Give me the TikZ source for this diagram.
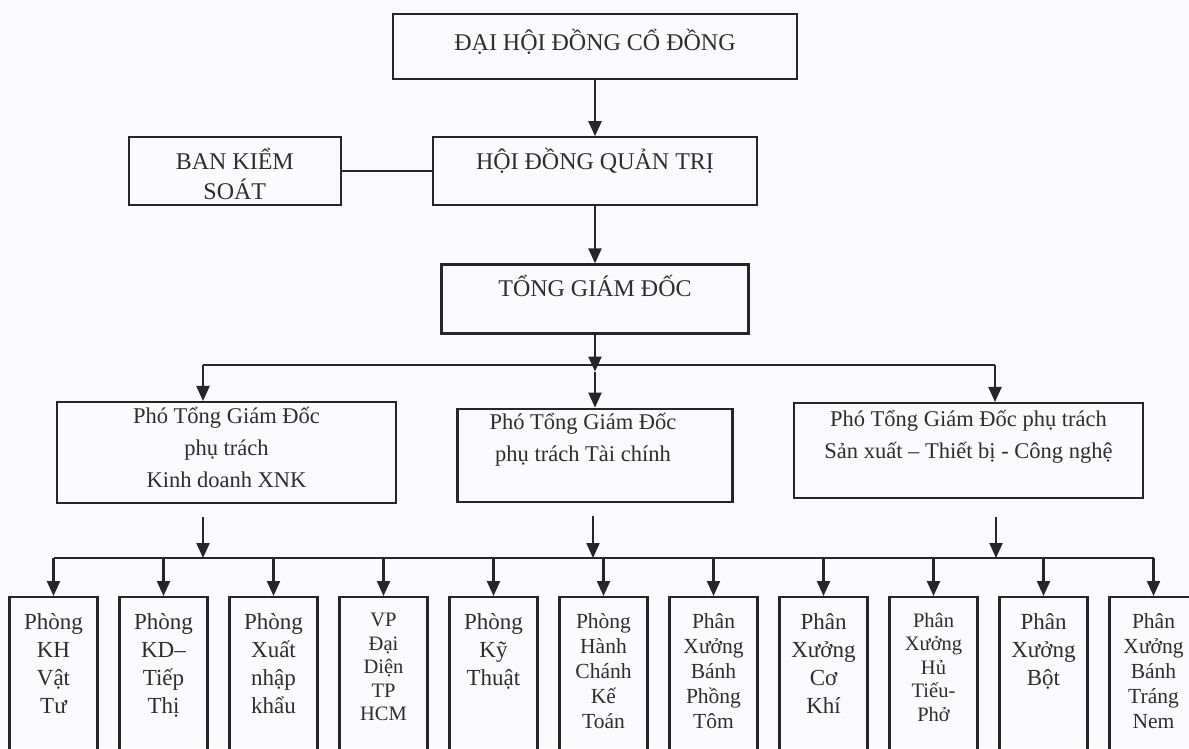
\documentclass[tikz,border=0pt]{standalone}
\usepackage{fontspec}
\setmainfont{Liberation Serif}
\usetikzlibrary{arrows.meta, positioning}
\definecolor{inkline}{HTML}{26262A}
\definecolor{inktext}{HTML}{2E2E32}
\definecolor{paper}{HTML}{FAFAFC}
\newcommand\orgcaps{\fontsize{24}{30}\selectfont}
\newcommand\orgvice{\fontsize{22.5}{32}\selectfont}
\newcommand\orgdept{\fontsize{23}{28}\selectfont}
\newcommand\orgdeptfive{\fontsize{21.5}{25}\selectfont}
\newcommand\orgdeptsm{\fontsize{20.5}{23.5}\selectfont}
\tikzset{
  orgbox/.style  ={rectangle, draw=inkline, line width=2.2pt, inner sep=0pt, anchor=north},
  deptbox/.style ={orgbox, minimum width=88pt, minimum height=170pt},
  boxtext/.style ={anchor=north, align=center, inner sep=0pt, text=inktext},
  flow/.style    ={-{Triangle[length=15pt, width=13pt]}, line width=2.2pt, draw=inkline},
  link/.style    ={line width=2.2pt, draw=inkline},
}

\begin{document}
\begin{tikzpicture}[x=1pt, y=1pt, node distance=56pt and 19.8pt]
    \fill[paper] (0,0) rectangle (1189,748);
    \clip (0,0) rectangle (1189,748);
    % top levels
    \node[orgbox, minimum width=404pt, minimum height=65pt,
          label={[boxtext, font=\orgcaps, yshift=-16pt]north:{ĐẠI HỘI ĐỒNG CỔ ĐỒNG}}] (dhcd) at (595,735) {};
    \node[orgbox, below=56pt of dhcd, minimum width=324pt, minimum height=68pt,
          label={[boxtext, font=\orgcaps, yshift=-12pt]north:{HỘI ĐỒNG QUẢN TRỊ}}] (hdqt) {};
    \node[orgbox, left=90pt of hdqt, minimum width=212pt, minimum height=68pt,
          label={[boxtext, font=\orgcaps, yshift=-12pt]north:{BAN KIỂM\\SOÁT}}] (bks) {};
    \node[orgbox, below=57pt of hdqt, minimum width=307pt, minimum height=69pt,
          label={[boxtext, font=\orgcaps, yshift=-12pt]north:{TỔNG GIÁM ĐỐC}}] (tgd) {};
    \coordinate[below=37pt of tgd.south] (bus1);
    \coordinate (jkd) at (203,383);
    \coordinate (jsx) at (995,383);
    % vice directors
    \node[orgbox, below=36pt of bus1, minimum width=275pt, minimum height=93pt,
          label={[boxtext, font=\orgvice, xshift=-12pt, yshift=-5pt]north:{Phó Tổng Giám Đốc\\phụ trách Tài chính}}] (ptc) {};
    \node[orgbox, minimum width=339pt, minimum height=101pt,
          label={[boxtext, font=\orgvice, yshift=-6pt]north:{Phó Tổng Giám Đốc\\phụ trách\\Kinh doanh XNK}}] (pkd) at (226.5,347) {};
    \node[orgbox, minimum width=349pt, minimum height=95pt,
          label={[boxtext, font=\orgvice, yshift=-8pt]north:{Phó Tổng Giám Đốc phụ trách\\Sản xuất – Thiết bị - Công nghệ}}] (psx) at (968.5,346) {};
    \coordinate (skd) at (203,231);
    \coordinate (stc) at (593,232);
    \coordinate (ssx) at (996,231);
    \coordinate (bus2) at (0,190);
    % departments and workshops
    \node[deptbox, label={[boxtext, font=\orgdept, yshift=-17pt]north:{Phòng\\KH\\Vật\\Tư}}] (vattu) at (53.5,152) {};
    \node[deptbox, right=of vattu, label={[boxtext, font=\orgdept, yshift=-17pt]north:{Phòng\\KD–\\Tiếp\\Thị}}] (tiepthi) {};
    \node[deptbox, right=of tiepthi, label={[boxtext, font=\orgdept, yshift=-17pt]north:{Phòng\\Xuất\\nhập\\khẩu}}] (xnk) {};
    \node[deptbox, right=of xnk, label={[boxtext, font=\orgdeptsm, yshift=-17pt]north:{VP\\Đại\\Diện\\TP\\HCM}}] (vphcm) {};
    \node[deptbox, right=of vphcm, label={[boxtext, font=\orgdept, yshift=-17pt]north:{Phòng\\Kỹ\\Thuật}}] (kythuat) {};
    \node[deptbox, right=of kythuat, label={[boxtext, font=\orgdeptfive, yshift=-17pt]north:{Phòng\\Hành\\Chánh\\Kế\\Toán}}] (hanhchanh) {};
    \node[deptbox, right=of hanhchanh, label={[boxtext, font=\orgdeptfive, yshift=-17pt]north:{Phân\\Xưởng\\Bánh\\Phồng\\Tôm}}] (phongtom) {};
    \node[deptbox, right=of phongtom, label={[boxtext, font=\orgdept, yshift=-17pt]north:{Phân\\Xưởng\\Cơ\\Khí}}] (cokhi) {};
    \node[deptbox, right=of cokhi, label={[boxtext, font=\orgdeptsm, yshift=-17pt]north:{Phân\\Xưởng\\Hủ\\Tiếu-\\Phở}}] (hutieu) {};
    \node[deptbox, right=of hutieu, label={[boxtext, font=\orgdept, yshift=-17pt]north:{Phân\\Xưởng\\Bột}}] (bot) {};
    \node[deptbox, right=of bot, label={[boxtext, font=\orgdeptfive, yshift=-17pt]north:{Phân\\Xưởng\\Bánh\\Tráng\\Nem}}] (banhtrang) {};
    % connectors
    \draw[flow] (dhcd) -- (hdqt);
    \draw[link] (bks) -- (hdqt);
    \draw[flow] (hdqt) -- (tgd);
    \draw[flow] (tgd) -- (bus1);
    \draw[link] (jkd) -- (jsx);
    \draw[flow] (bus1) -- (ptc);
    \draw[flow] (jkd) -- (jkd |- pkd.north);
    \draw[flow] (jsx) -- (jsx |- psx.north);
    \draw[flow] (skd) -- (skd |- bus2);
    \draw[flow] (stc) -- (stc |- bus2);
    \draw[flow] (ssx) -- (ssx |- bus2);
    \draw[link] (vattu |- bus2) -- (banhtrang |- bus2);
    \draw[flow] (vattu |- bus2) -- (vattu);
    \draw[flow] (tiepthi |- bus2) -- (tiepthi);
    \draw[flow] (xnk |- bus2) -- (xnk);
    \draw[flow] (vphcm |- bus2) -- (vphcm);
    \draw[flow] (kythuat |- bus2) -- (kythuat);
    \draw[flow] (hanhchanh |- bus2) -- (hanhchanh);
    \draw[flow] (phongtom |- bus2) -- (phongtom);
    \draw[flow] (cokhi |- bus2) -- (cokhi);
    \draw[flow] (hutieu |- bus2) -- (hutieu);
    \draw[flow] (bot |- bus2) -- (bot);
    \draw[flow] (banhtrang |- bus2) -- (banhtrang);
\end{tikzpicture}
\end{document}
